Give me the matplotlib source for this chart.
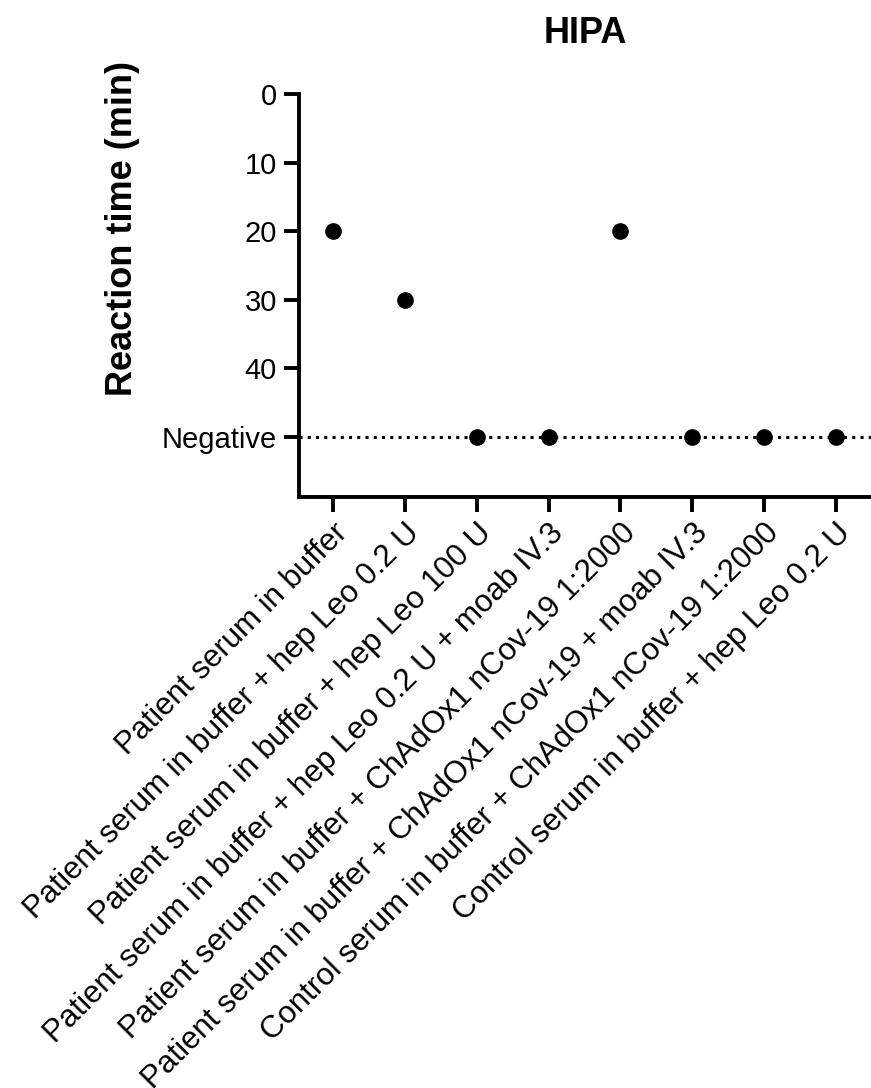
import matplotlib
matplotlib.use('Agg')
import matplotlib.pyplot as plt

plt.rcParams['font.family'] = ['Liberation Sans', 'DejaVu Sans']

conditions = [
    'Patient serum in buffer',
    'Patient serum in buffer + hep Leo 0.2 U',
    'Patient serum in buffer + hep Leo 100 U',
    'Patient serum in buffer + hep Leo 0.2 U + moab IV.3',
    'Patient serum in buffer + ChAdOx1 nCov-19 1:2000',
    'Patient serum in buffer + ChAdOx1 nCov-19 + moab IV.3',
    'Control serum in buffer + ChAdOx1 nCov-19 1:2000',
    'Control serum in buffer + hep Leo 0.2 U',
]
NEGATIVE = 50
reaction_min = [20, 30, NEGATIVE, NEGATIVE, 20, NEGATIVE, NEGATIVE, NEGATIVE]
ytick_vals = [0, 10, 20, 30, 40, NEGATIVE]
ytick_labels = ['0', '10', '20', '30', '40', 'Negative']

fig = plt.figure(figsize=(8.71, 10.88), dpi=100)
ax = fig.add_axes([0.3433, 0.5432, 0.6567, 0.3704])

ax.axhline(NEGATIVE, color='black', lw=2.2, linestyle=(0, (1, 1.7)), zorder=1)
ax.plot(range(len(conditions)), reaction_min, 'o', color='black', ms=11, zorder=3)

ax.set_xlim(-0.473, 7.487)
ax.set_ylim(58.75, 0)
ax.set_yticks(ytick_vals)
ax.set_yticklabels(ytick_labels)
ax.set_xticks(range(len(conditions)))
ax.set_xticklabels(conditions, rotation=45, ha='right', va='top', rotation_mode='anchor')

for s in ['top', 'right']:
    ax.spines[s].set_visible(False)
for s in ['left', 'bottom']:
    ax.spines[s].set_linewidth(2.8)
ax.spines['left'].set_bounds(58.75, 0)
ax.tick_params(width=2.8, length=11, pad=5)
ax.tick_params(axis='y', labelsize=21)
ax.tick_params(axis='x', labelsize=22.5, pad=4)

ax.set_ylabel('Reaction time (min)', fontsize=26, fontweight='bold')
ax.yaxis.set_label_coords(-0.278, 0.667)
ax.set_title('HIPA', fontsize=26, fontweight='bold', pad=37)

fig.savefig('out.png', dpi=100)
